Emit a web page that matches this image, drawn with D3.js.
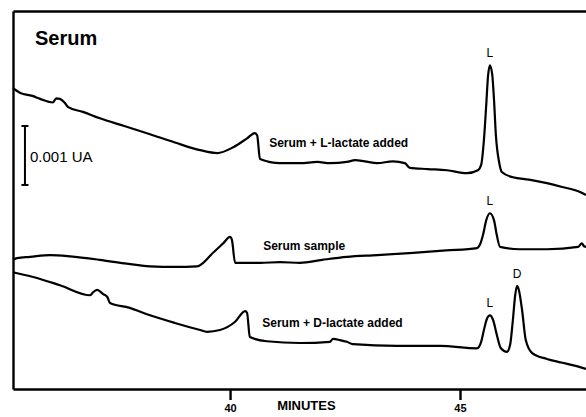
<!DOCTYPE html>
<html>
<head>
<meta charset="utf-8">
<script src="https://cdn.jsdelivr.net/npm/d3@7/dist/d3.min.js"></script>
<style>
    body { margin: 0; background: white; }
    text { font-family: "Liberation Sans", Arial, sans-serif; fill: black; }
</style>
</head>
<body>
<script>
    // retention time (min) and absorbance (mAU, traces stacked with an offset)
    let lAdded = [[35.28, 5.10], [35.44, 5.02], [35.70, 4.97], [35.87, 4.92], [36.15, 4.86], [36.22, 4.93], [36.30, 4.92],
        [36.41, 4.85], [36.48, 4.78], [36.80, 4.70], [37.17, 4.59], [37.70, 4.46], [38.26, 4.32], [38.80, 4.18],
        [39.35, 4.05], [39.72, 4.00], [40.07, 4.10], [40.37, 4.25], [40.54, 4.34], [40.59, 4.30], [40.65, 3.90],
        [41.09, 3.83], [41.52, 3.83], [41.90, 3.85], [42.17, 3.83], [42.54, 3.85], [42.72, 3.88], [42.93, 3.86],
        [43.20, 3.83], [43.54, 3.86], [43.80, 3.83], [43.91, 3.75], [44.30, 3.73], [44.72, 3.71], [45.15, 3.66],
        [45.39, 3.71], [45.46, 3.80], [45.52, 4.22], [45.57, 4.81], [45.61, 5.31], [45.65, 5.49], [45.70, 5.34],
        [45.74, 4.90], [45.78, 4.31], [45.85, 3.85], [45.91, 3.68], [46.15, 3.59], [46.50, 3.55], [46.89, 3.49],
        [47.20, 3.43], [47.61, 3.34], [47.74, 3.29]]

    let sample = [[35.28, 2.19], [35.37, 2.22], [35.65, 2.24], [36.09, 2.27], [36.52, 2.25], [37.17, 2.19],
        [37.70, 2.13], [38.26, 2.08], [38.80, 2.07], [39.28, 2.08], [39.63, 2.31], [39.85, 2.47], [40.00, 2.58],
        [40.04, 2.53], [40.11, 2.14], [40.65, 2.14], [41.09, 2.15], [41.52, 2.14], [42.00, 2.19], [42.54, 2.24],
        [43.20, 2.27], [43.98, 2.31], [44.70, 2.35], [45.37, 2.39], [45.43, 2.44], [45.50, 2.61], [45.57, 2.86],
        [45.65, 2.98], [45.74, 2.86], [45.80, 2.61], [45.87, 2.41], [46.30, 2.37], [46.89, 2.37], [47.57, 2.41],
        [47.65, 2.47], [47.70, 2.42], [47.74, 2.41]]

    let dAdded = [[35.28, 1.98], [35.72, 1.90], [36.30, 1.76], [36.96, 1.59], [37.02, 1.64], [37.11, 1.68],
        [37.24, 1.61], [37.33, 1.56], [37.39, 1.46], [37.80, 1.38], [38.26, 1.25], [38.80, 1.12], [39.35, 1.00],
        [39.50, 0.97], [39.78, 1.00], [40.11, 1.14], [40.33, 1.32], [40.37, 1.29], [40.43, 0.88], [40.80, 0.81],
        [41.52, 0.78], [42.17, 0.80], [42.24, 0.85], [42.39, 0.83], [42.54, 0.80], [42.67, 0.76], [43.63, 0.73],
        [44.57, 0.73], [45.37, 0.69], [45.46, 0.80], [45.52, 1.00], [45.59, 1.20], [45.65, 1.25], [45.72, 1.17],
        [45.80, 0.92], [45.89, 0.69], [46.02, 0.63], [46.09, 0.75], [46.15, 1.17], [46.20, 1.59], [46.24, 1.75],
        [46.28, 1.68], [46.35, 1.34], [46.43, 0.83], [46.57, 0.61], [46.89, 0.51], [47.20, 0.45], [47.61, 0.37],
        [47.74, 0.34]]

    let traces = [lAdded, sample, dAdded]
    let traceNames = ["Serum + L-lactate added", "Serum sample", "Serum + D-lactate added"]
    let traceLabelAt = [[40.85, 4.10], [40.72, 2.36], [40.70, 1.05]]

    let peakTrace = [0, 1, 2, 2]
    let peakTime = [45.65, 45.65, 45.65, 46.24]
    let peakNames = ["L", "L", "L", "D"]

    let xTicks = [40, 45]
    let scaleBarBase = 3.46   // mAU
    let scaleBarSize = 1      // 1 mAU = 0.001 AU

    let svgContainer = d3.select('body')
        .append('svg')
        .attr('width', 586)
        .attr('height', 417)

    let xScale = d3.scaleLinear()
        .domain([35.28, 47.74])
        .range([13, 586])

    let yScale = d3.scaleLinear()
        .domain([0, 6.41])
        .range([389, 11])

    // frame: bottom axis with ticks, plain left and top lines
    let xAxis = d3.axisBottom(xScale)
        .tickValues(xTicks)
        .tickSize(11)
        .tickSizeOuter(0)
        .tickPadding(4)

    let gx = svgContainer.append('g')
        .attr('transform', 'translate(0, 389)')
        .call(xAxis)

    gx.selectAll('path, line')
        .attr('stroke', 'black')
        .attr('stroke-width', 2.4)
    gx.selectAll('text')
        .attr('font-size', 11)
        .attr('font-weight', 'bold')
        .attr('fill', 'black')
        .attr('font-family', '"Liberation Sans", Arial, sans-serif')

    svgContainer.append('g')
        .attr('transform', 'translate(13, 0)')
        .call(d3.axisLeft(yScale).tickValues([]).tickSizeOuter(0))
        .selectAll('path')
        .attr('stroke', 'black')
        .attr('stroke-width', 2.4)

    svgContainer.append('g')
        .attr('transform', 'translate(0, 11)')
        .call(d3.axisTop(xScale).tickValues([]).tickSizeOuter(0))
        .selectAll('path')
        .attr('stroke', 'black')
        .attr('stroke-width', 2.4)

    svgContainer.append('text')
        .attr('x', xScale(41.66))
        .attr('y', 410)
        .attr('text-anchor', 'middle')
        .attr('font-weight', 'bold')
        .attr('font-size', 13)
        .attr('fill', 'black')
        .text('MINUTES')

    let line = d3.line()
        .x((d) => xScale(d[0]))
        .y((d) => yScale(d[1]))
        .curve(d3.curveMonotoneX)

    svgContainer.selectAll('.trace')
        .data(traces)
        .enter()
        .append('path')
        .attr('class', 'trace')
        .attr('d', line)
        .attr('fill', 'none')
        .attr('stroke', 'black')
        .attr('stroke-width', 2.2)
        .attr('stroke-linejoin', 'round')

    traceNames.forEach((name, i) => {
        svgContainer.append('text')
            .attr('x', xScale(traceLabelAt[i][0]))
            .attr('y', yScale(traceLabelAt[i][1]))
            .attr('font-weight', 'bold')
            .attr('font-size', 12)
            .attr('fill', 'black')
            .text(name)
    })

    // peak letters sit just above the top of each peak
    peakNames.forEach((name, i) => {
        let near = traces[peakTrace[i]].filter((d) => Math.abs(d[0] - peakTime[i]) < 0.1)
        let top = d3.max(near, (d) => d[1])
        svgContainer.append('text')
            .attr('x', xScale(peakTime[i]))
            .attr('y', yScale(top) - 8)
            .attr('text-anchor', 'middle')
            .attr('font-size', 12)
            .attr('fill', 'black')
            .text(name)
    })

    // scale bar
    let barX = xScale(35.54)
    svgContainer.append('line')
        .attr('x1', barX).attr('x2', barX)
        .attr('y1', yScale(scaleBarBase)).attr('y2', yScale(scaleBarBase + scaleBarSize))
        .attr('stroke', 'black')
        .attr('stroke-width', 2)
    ;[scaleBarBase, scaleBarBase + scaleBarSize].forEach((v) => {
        svgContainer.append('line')
            .attr('x1', barX - 3.5).attr('x2', barX + 3.5)
            .attr('y1', yScale(v)).attr('y2', yScale(v))
            .attr('stroke', 'black')
            .attr('stroke-width', 2)
    })
    svgContainer.append('text')
        .attr('x', barX + 5)
        .attr('y', 162)
        .attr('font-size', 15)
        .attr('fill', 'black')
        .text('0.001 UA')

    svgContainer.append('text')
        .attr('x', 35)
        .attr('y', 45)
        .attr('font-weight', 'bold')
        .attr('font-size', 20)
        .attr('fill', 'black')
        .text('Serum')
</script>
</body>
</html>
